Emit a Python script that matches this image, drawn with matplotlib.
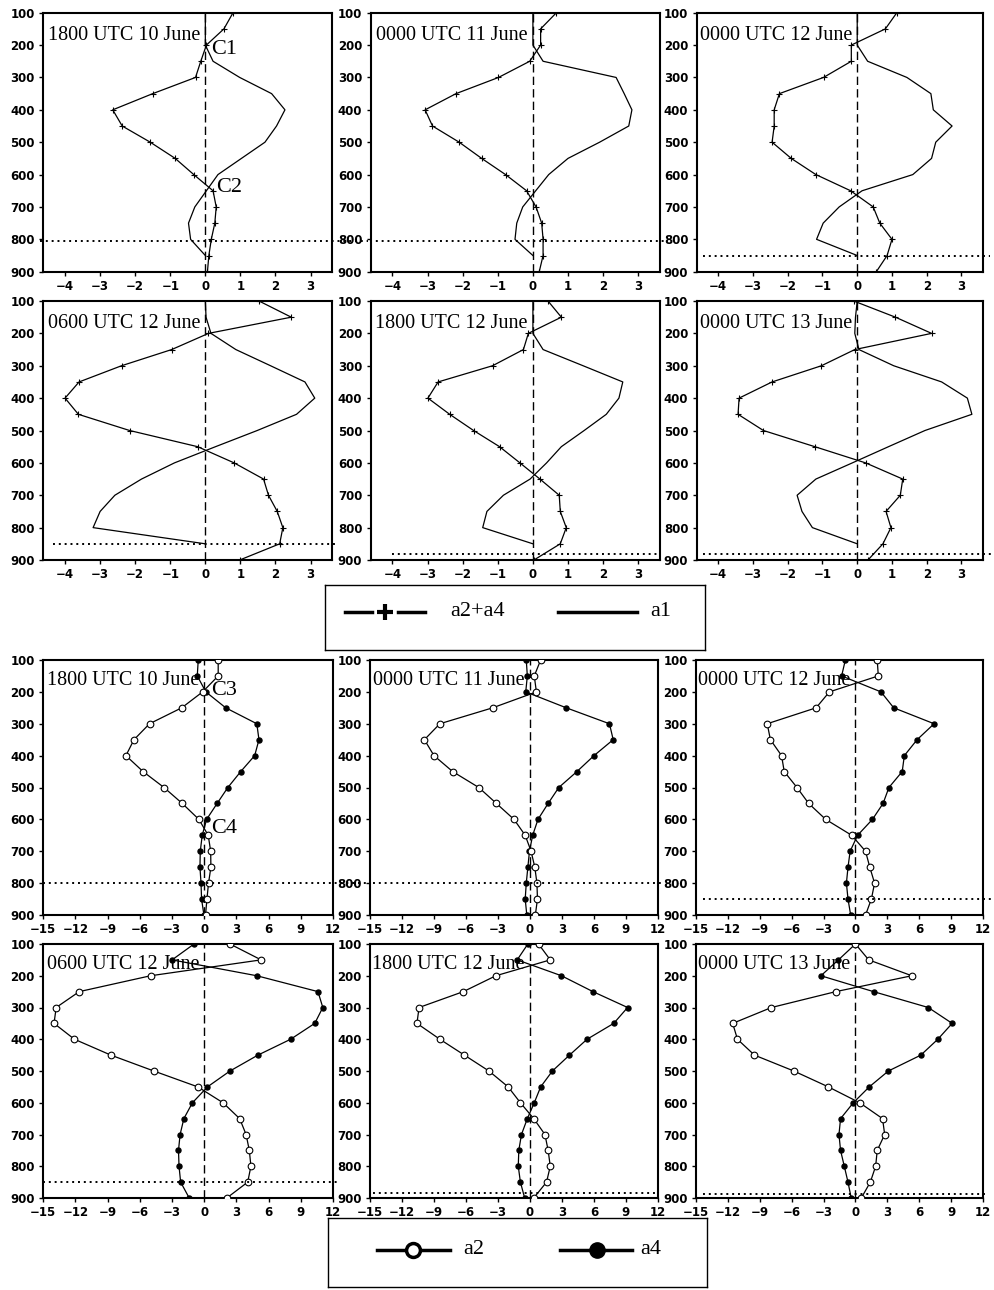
import matplotlib
matplotlib.use('Agg')
import numpy as np
import matplotlib.pyplot as plt
from matplotlib.transforms import blended_transform_factory, offset_copy

nan = np.nan
levels = [100, 150, 200, 250, 300, 350, 400, 450, 500, 550, 600, 650, 700, 750, 800, 850, 900]

titles = ["1800 UTC 10 June", "0000 UTC 11 June", "0000 UTC 12 June",
          "0600 UTC 12 June", "1800 UTC 12 June", "0000 UTC 13 June"]

# ---- upper group: a2+a4 (plus markers) and a1 (solid) ----
a24_p1 = [0.79, 0.53, 0.03, -0.13, -0.28, -1.50, -2.64, -2.37, -1.57, -0.86, -0.33, 0.22, 0.31, 0.27, 0.17, 0.10, 0.06]
a1_p1 = [0, 0, 0, 0.22, 0.98, 1.89, 2.27, 2.03, 1.70, 1.03, 0.36, 0.03, -0.30, -0.48, -0.42, 0, nan]
a24_p2 = [0.67, 0.22, 0.22, -0.09, -0.98, -2.19, -3.07, -2.86, -2.10, -1.46, -0.78, -0.18, 0.09, 0.25, 0.29, 0.29, 0.18]
a1_p2 = [0, 0, 0, 0.29, 2.37, 2.60, 2.82, 2.73, 1.90, 1.00, 0.45, 0.08, -0.29, -0.46, -0.51, 0, nan]
a24_p3 = [1.14, 0.81, -0.17, -0.17, -0.97, -2.24, -2.39, -2.39, -2.45, -1.90, -1.19, -0.19, 0.46, 0.65, 1.00, 0.86, 0.55]
a1_p3 = [0, 0, 0, 0.30, 1.43, 2.12, 2.19, 2.73, 2.26, 2.14, 1.60, 0.14, -0.52, -0.98, -1.17, 0, nan]
a24_p4 = [1.53, 2.45, 0.09, -0.96, -2.39, -3.60, -4.00, -3.62, -2.16, -0.22, 0.82, 1.66, 1.80, 2.05, 2.21, 2.12, 0.98]
a1_p4 = [0, 0.02, 0.16, 0.87, 1.86, 2.84, 3.12, 2.60, 1.48, 0.29, -0.88, -1.82, -2.58, -3.00, -3.20, 0, nan]
a24_p5 = [0.43, 0.81, -0.13, -0.27, -1.15, -2.70, -2.99, -2.37, -1.69, -0.95, -0.37, 0.20, 0.75, 0.78, 0.95, 0.78, 0.03]
a1_p5 = [0, 0, 0, 0.29, 1.43, 2.56, 2.45, 2.09, 1.46, 0.81, 0.39, -0.08, -0.84, -1.31, -1.43, 0, nan]
a24_p6 = [-0.10, 1.10, 2.14, -0.07, -1.03, -2.45, -3.40, -3.43, -2.70, -1.22, 0.24, 1.31, 1.24, 0.83, 0.97, 0.74, 0.31]
a1_p6 = [0, -0.05, -0.07, 0.05, 1.05, 2.43, 3.17, 3.30, 1.95, 0.90, -0.14, -1.19, -1.73, -1.59, -1.29, 0, nan]

# ---- lower group: a2 (open circles) and a4 (filled circles) ----
a2_p7 = [1.3, 1.3, -0.15, -2.1, -5.1, -6.55, -7.3, -5.7, -3.75, -2.05, -0.5, 0.37, 0.6, 0.62, 0.4, 0.25, 0.12]
a4_p7 = [-0.56, -0.65, 0.15, 2.0, 4.9, 5.1, 4.7, 3.4, 2.2, 1.2, 0.22, -0.19, -0.37, -0.4, -0.3, -0.25, -0.03]
a2_p8 = [1.0, 0.4, 0.6, -3.5, -8.45, -9.9, -9.0, -7.25, -4.8, -3.15, -1.5, -0.45, 0.1, 0.45, 0.65, 0.7, 0.5]
a4_p8 = [-0.35, -0.25, -0.4, 3.4, 7.45, 7.8, 6.0, 4.4, 2.7, 1.7, 0.75, 0.25, -0.05, -0.2, -0.35, -0.45, -0.3]
a2_p9 = [2.05, 2.15, -2.45, -3.7, -8.3, -8.0, -6.95, -6.7, -5.5, -4.4, -2.8, -0.35, 0.95, 1.35, 1.8, 1.5, 0.95]
a4_p9 = [-0.95, -1.3, 2.4, 3.6, 7.4, 5.8, 4.6, 4.4, 3.15, 2.6, 1.6, 0.2, -0.5, -0.7, -0.85, -0.7, -0.45]
a2_p10 = [2.4, 5.3, -5.0, -11.65, -13.8, -14.0, -12.1, -8.7, -4.7, -0.6, 1.75, 3.3, 3.9, 4.2, 4.35, 4.05, 2.1]
a4_p10 = [-0.95, -3.0, 4.9, 10.6, 11.05, 10.3, 8.05, 5.0, 2.4, 0.3, -1.1, -1.9, -2.25, -2.4, -2.35, -2.2, -1.4]
a2_p11 = [0.8, 1.9, -3.2, -6.25, -10.4, -10.6, -8.45, -6.15, -3.85, -2.05, -0.9, 0.35, 1.4, 1.7, 1.9, 1.55, 0.35]
a4_p11 = [-0.2, -1.2, 2.95, 5.9, 9.15, 7.85, 5.35, 3.7, 2.1, 1.0, 0.4, -0.25, -0.8, -1.05, -1.1, -0.9, -0.5]
a2_p12 = [0.0, 1.25, 5.3, -1.85, -7.9, -11.55, -11.1, -9.5, -5.8, -2.55, 0.4, 2.55, 2.75, 2.05, 1.9, 1.4, 0.55]
a4_p12 = [0.0, -1.6, -3.25, 1.7, 6.85, 9.1, 7.75, 6.15, 3.1, 1.3, -0.2, -1.4, -1.55, -1.4, -1.05, -0.7, -0.4]

# dotted reference levels (hPa)
ref_top = [805, 805, 850, 850, 882, 880]
ref_bot = [800, 800, 850, 850, 884, 886]

upper_ticks = [-4, -3, -2, -1, 0, 1, 2, 3]
lower_ticks = [-15, -12, -9, -6, -3, 0, 3, 6, 9, 12]
p_ticks = [100, 200, 300, 400, 500, 600, 700, 800, 900]

upper_a24 = [a24_p1, a24_p2, a24_p3, a24_p4, a24_p5, a24_p6]
upper_a1 = [a1_p1, a1_p2, a1_p3, a1_p4, a1_p5, a1_p6]
lower_a2 = [a2_p7, a2_p8, a2_p9, a2_p10, a2_p11, a2_p12]
lower_a4 = [a4_p7, a4_p8, a4_p9, a4_p10, a4_p11, a4_p12]

W, H = 995, 1290
fig = plt.figure(figsize=(W / 100, H / 100), dpi=100)
SERIF = ['Liberation Serif', 'DejaVu Serif']


def add_ax(l, r, t, b):
    return fig.add_axes([l / W, 1 - b / H, (r - l) / W, (b - t) / H])


top_cols = [(43.3, 332.3), (370.7, 660), (696.7, 983)]
top_rows = [(12.7, 271.7), (301, 560)]
bot_cols = [(43.3, 333), (370, 658), (696, 983)]
bot_rows = [(660, 915), (944, 1198)]

# dotted-line pixel extents per panel
dot_top_ext = [(40, 368), (370, 664), (703, 990), (53, 337), (392, 660), (703, 993)]
dot_bot_ext = [(43, 370), (373, 662), (703, 995), (43, 337), (373, 657), (703, 988)]


def fmt(v):
    return str(v).replace('-', '\u2212')


def style(ax, xlim, xticks):
    ax.set_xlim(*xlim)
    ax.set_ylim(900, 100)
    ax.set_xticks(xticks)
    ax.set_yticks(p_ticks)
    ax.set_xticklabels([fmt(t) for t in xticks])
    ax.set_yticklabels([str(t) for t in p_ticks])
    for s in ax.spines.values():
        s.set_linewidth(1.5)
    ax.tick_params(axis='both', direction='out', length=3, width=1, labelsize=8.5, pad=3)
    for lab in ax.get_xticklabels() + ax.get_yticklabels():
        lab.set_fontweight('bold')
        lab.set_family('DejaVu Sans')
    ax.axvline(0, color='k', lw=1.0, dashes=(6, 3), zorder=1)


def add_title(ax, text, yfrac):
    tr = blended_transform_factory(ax.transData, ax.transAxes)
    tr = offset_copy(tr, fig=fig, x=-5, y=0, units='dots')
    ax.text(0, yfrac, text, transform=tr, ha='right', va='baseline',
            fontsize=14.5, family=SERIF, clip_on=True, zorder=5)


def add_dotted(ax, lvl, ext, l, r):
    f0 = (ext[0] - l) / (r - l)
    f1 = (ext[1] - l) / (r - l)
    ax.axhline(lvl, xmin=f0, xmax=f1, color='k', ls=(0, (1, 2)), lw=1.4, clip_on=False, zorder=4)


upper_axes = []
i = 0
for (t, b) in top_rows:
    for (l, r) in top_cols:
        ax = add_ax(l, r, t, b)
        style(ax, (-4.62, 3.62), upper_ticks)
        ax.plot(upper_a1[i], levels, color='k', lw=0.9, zorder=3)
        ax.plot(upper_a24[i], levels, color='k', lw=0.9, marker='+', ms=5, mew=0.8, zorder=3)
        add_dotted(ax, ref_top[i], dot_top_ext[i], l, r)
        add_title(ax, titles[i], 0.895)
        upper_axes.append(ax)
        i += 1

lower_axes = []
i = 0
for (t, b) in bot_rows:
    for (l, r) in bot_cols:
        ax = add_ax(l, r, t, b)
        style(ax, (-15, 12), lower_ticks)
        ax.plot(lower_a4[i], levels, color='k', lw=0.9, marker='o', ms=3.6, mfc='k', mec='k', zorder=3)
        ax.plot(lower_a2[i], levels, color='k', lw=0.9, marker='o', ms=4.8, mfc='white', mec='k', mew=0.8, zorder=3)
        add_dotted(ax, ref_bot[i], dot_bot_ext[i], l, r)
        add_title(ax, titles[i], 0.902)
        lower_axes.append(ax)
        i += 1

# point labels
upper_axes[0].text(0.17, 215, 'C1', fontsize=16, family=SERIF, ha='left', va='center', zorder=6)
upper_axes[0].text(0.31, 641, 'C2', fontsize=16, family=SERIF, ha='left', va='center', zorder=6)
lower_axes[0].text(0.6, 196, 'C3', fontsize=16, family=SERIF, ha='left', va='center', zorder=6)
lower_axes[0].text(0.6, 628, 'C4', fontsize=16, family=SERIF, ha='left', va='center', zorder=6)


# legends (boxes drawn in pixel units)
def legend_box(l, r, t, b):
    ax = add_ax(l, r, t, b)
    ax.set_xlim(l, r)
    ax.set_ylim(b, t)
    ax.set_xticks([])
    ax.set_yticks([])
    for s in ax.spines.values():
        s.set_linewidth(1.0)
    return ax


lg1 = legend_box(325, 705, 585, 650)
lg1.plot([345, 372], [612, 612], color='k', lw=2.5)
lg1.plot([398, 425], [612, 612], color='k', lw=2.5)
lg1.plot([385], [612], marker='+', ms=12, mew=3, color='k')
lg1.text(450, 612, 'a2+a4', fontsize=16, family=SERIF, va='center', ha='left')
lg1.plot([558, 637], [612, 612], color='k', lw=2.5)
lg1.text(650, 612, 'a1', fontsize=16, family=SERIF, va='center', ha='left')

lg2 = legend_box(328, 707, 1218, 1287)
lg2.plot([377, 450], [1250, 1250], color='k', lw=2.5)
lg2.plot([413], [1250], marker='o', ms=10, mfc='white', mec='k', mew=2.5)
lg2.text(463, 1250, 'a2', fontsize=16, family=SERIF, va='center', ha='left')
lg2.plot([560, 632], [1250, 1250], color='k', lw=2.5)
lg2.plot([597], [1250], marker='o', ms=11, mfc='k', mec='k')
lg2.text(640, 1250, 'a4', fontsize=16, family=SERIF, va='center', ha='left')

fig.savefig('out.png', dpi=100, facecolor='white')
